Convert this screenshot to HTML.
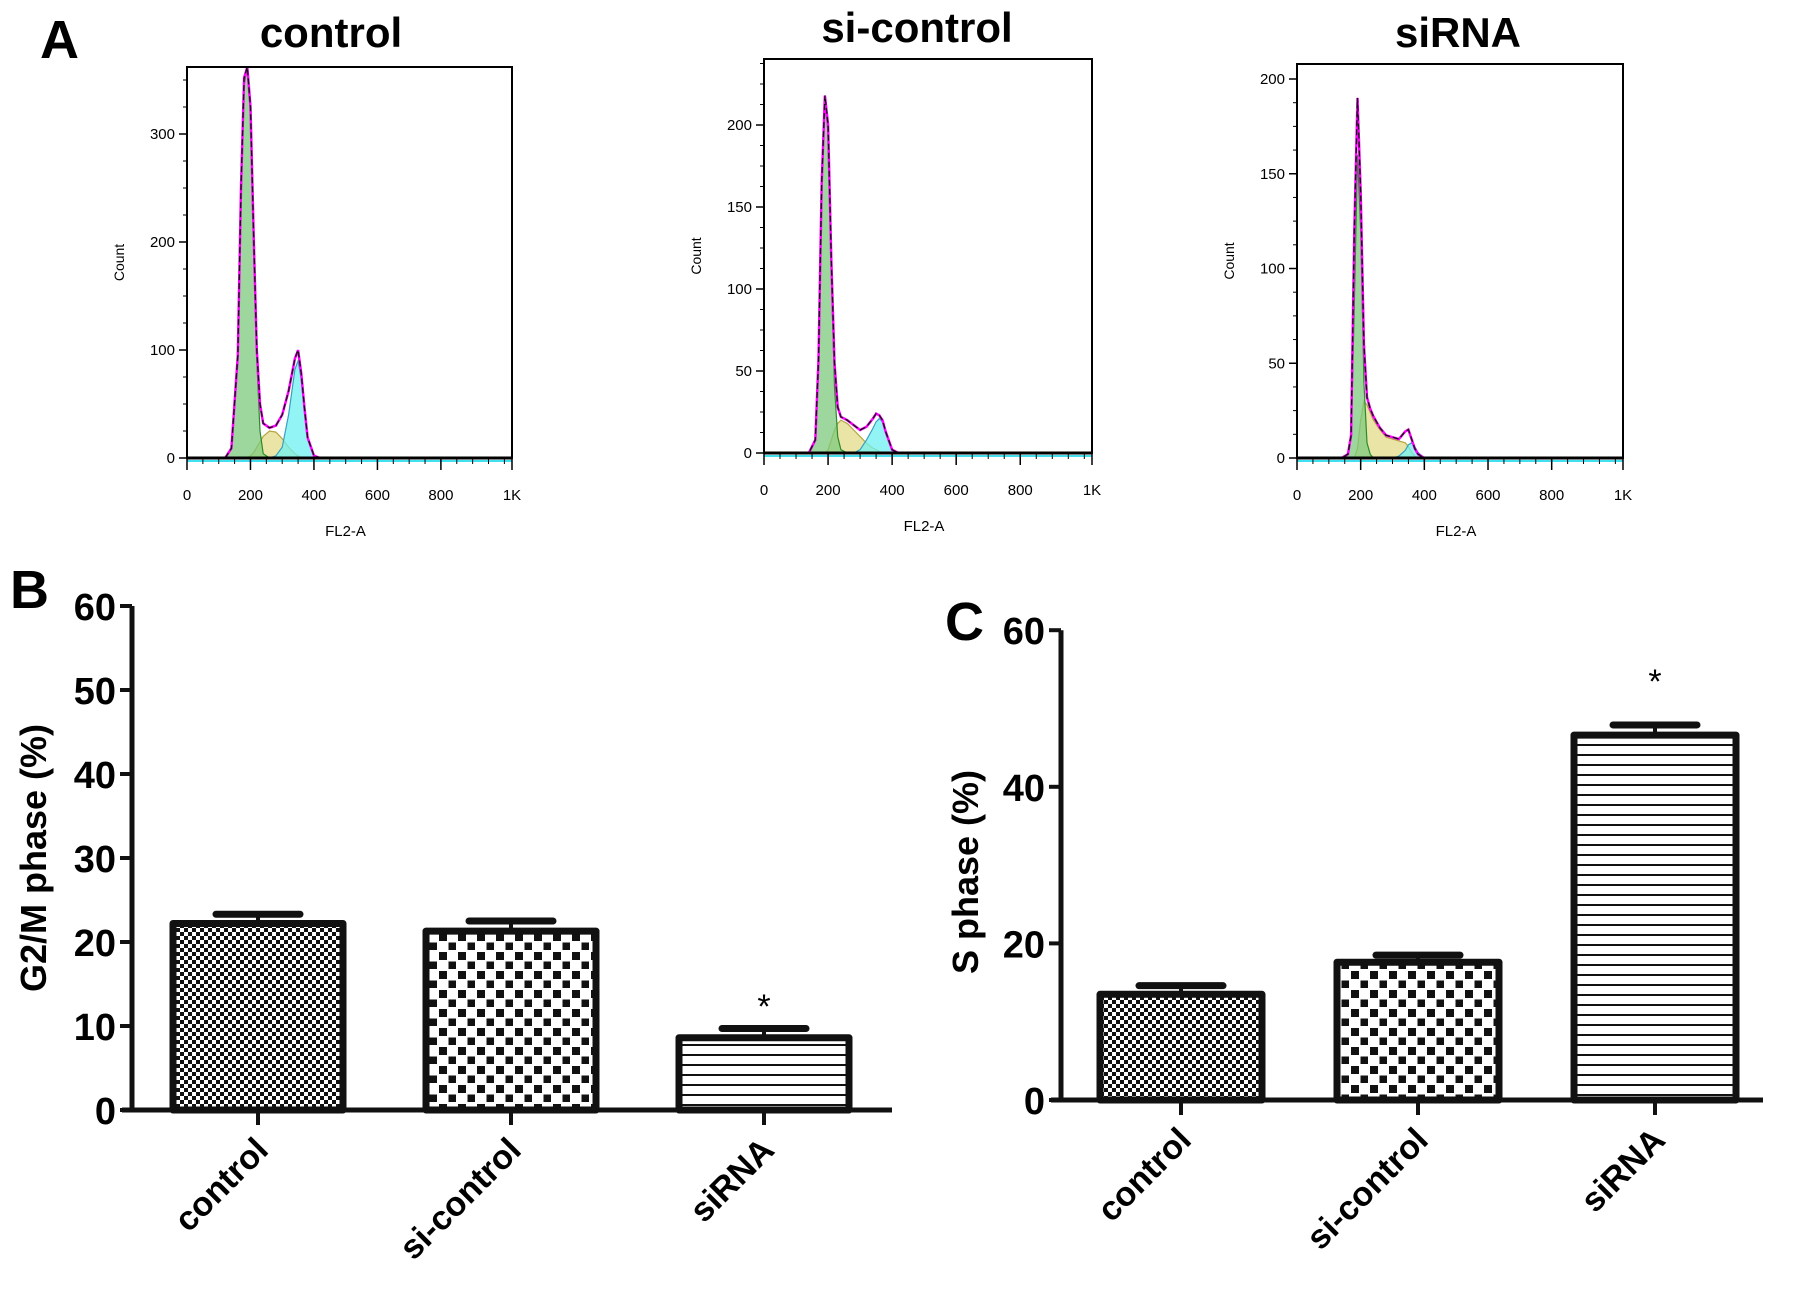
<!DOCTYPE html>
<html><head><meta charset="utf-8"><style>
body{margin:0;background:#fff;}
svg{display:block;font-family:"Liberation Sans",Arial,sans-serif;}
</style></head><body>
<svg id="fig" width="1795" height="1293" viewBox="0 0 1795 1293" xmlns="http://www.w3.org/2000/svg">
<defs>
<pattern id="pFine" width="8" height="8" patternUnits="userSpaceOnUse"><rect width="8" height="8" fill="#fff"/><rect x="0" y="0" width="4" height="4" fill="#111"/><rect x="4" y="4" width="4" height="4" fill="#111"/></pattern>
<pattern id="pCheck" width="19" height="19" patternUnits="userSpaceOnUse"><rect width="19" height="19" fill="#fff"/><rect x="2" y="2" width="8" height="8" fill="#111"/><rect x="11.5" y="11.5" width="8" height="8" fill="#111"/></pattern>
<pattern id="pLines" width="10" height="10" patternUnits="userSpaceOnUse"><rect width="10" height="10" fill="#fff"/><rect x="0" y="4" width="10" height="2" fill="#111"/></pattern>
</defs>
<g id="root"></g>
</svg>
<script>
// ---- Histogram data (channel, count) per phase component ----
const chanPts = [120,140,160,170,180,190,200,210,220,230,240,260,280,300,320,340,350,360,370,380,400,420];
const ctrlG1 = [0,8,90,240,345,370,320,200,90,25,4,0,0,0,0,0,0,0,0,0,0,0];
const ctrlS  = [0,0,0,0,0,0,2,5,10,15,20,25,24,18,10,4,2,0,0,0,0,0];
const ctrlG2 = [0,0,0,0,0,0,0,0,0,0,0,0,2,10,40,82,90,72,45,18,2,0];
const ctrlEnv= [0,9,95,250,352,372,325,205,100,50,32,28,30,40,62,92,100,78,47,19,2,0];
const sicG1  = [0,0,8,55,160,215,195,110,40,10,2,0,0,0,0,0,0,0,0,0,0,0];
const sicS   = [0,0,0,0,0,0,2,8,14,18,20,18,14,10,6,3,2,1,0,0,0,0];
const sicG2  = [0,0,0,0,0,0,0,0,0,0,0,0,0,2,8,15,19,21,19,12,2,0];
const sicEnv = [0,0,8,57,165,218,200,118,55,28,22,20,17,14,16,21,24,23,20,13,2,0];
const siG1   = [0,0,2,10,80,160,120,40,8,2,0,0,0,0,0,0,0,0,0,0,0,0];
const siS    = [0,0,0,0,0,5,20,30,28,24,20,15,11,10,9,8,6,3,1,0,0,0];
const siG2   = [0,0,0,0,0,0,0,0,0,0,0,0,0,0,1,4,7,8,6,3,0,0];
const siEnv  = [0,0,2,12,120,190,140,60,32,26,22,16,12,11,10,14,15,10,5,2,0,0];
const xTickLabels = ["0","200","400","600","800","1K"];
const xTickVals = [0,200,400,600,800,1024];

// ---- Bar chart data ----
const barCats = ["control","si-control","siRNA"];
const g2mVals = [22.2,21.3,8.6];
const g2mErr  = [1.1,1.2,1.1];
const sVals   = [13.5,17.6,46.6];
const sErr    = [1.1,0.9,1.3];
const g2mTicks = [0,10,20,30,40,50,60];
const sTicks = [0,20,40,60];

const NS="http://www.w3.org/2000/svg";
const root=document.getElementById('root');
function mk(tag,attrs,parent,text){const e=document.createElementNS(NS,tag);for(const k in attrs)e.setAttribute(k,attrs[k]);if(text!==undefined)e.textContent=text;(parent||root).appendChild(e);return e;}

function histogram(cfg){
  const g=mk('g',{});
  
  
  const X=c=>cfg.x0+c*(cfg.x1-cfg.x0)/1024;
  const Y=v=>cfg.yb-v*cfg.ppu;
  const area=(arr,fill,stroke)=>{let d=`M${X(chanPts[0])},${Y(0)}`;arr.forEach((v,i)=>d+=`L${X(chanPts[i]).toFixed(1)},${Y(Math.min(v,cfg.ymax)).toFixed(1)}`);d+=`L${X(chanPts[chanPts.length-1])},${Y(0)}Z`;return mk('path',{d,fill,'fill-opacity':0.75,stroke,'stroke-width':1.2},g);};
  const pc=area(cfg.s,'#e3dc8a','#b5a640');  
  const pg2=area(cfg.g2,'#6ff0f2','#3aa0c0');  
  const pg1=area(cfg.g1,'#7cc97c','#2c8a2c');  
  let d='';cfg.env.forEach((v,i)=>d+=(i?'L':'M')+X(chanPts[i]).toFixed(1)+','+Y(Math.min(v,cfg.ymax)).toFixed(1));
  const env=mk('path',{d,fill:'none',stroke:'#ff00ff','stroke-width':2.5},g);
   
  const dl=mk('path',{d,fill:'none',stroke:'#111','stroke-width':1.3,'stroke-dasharray':'6 3'},g);
   
  mk('line',{x1:cfg.x0,y1:cfg.yb+3,x2:cfg.x1,y2:cfg.yb+3,stroke:'#40e0f0','stroke-width':2},g);
  mk('line',{x1:cfg.x0,y1:cfg.yb,x2:cfg.x1,y2:cfg.yb,stroke:'#000','stroke-width':3},g);
  mk('rect',{x:cfg.x0,y:cfg.top,width:cfg.x1-cfg.x0,height:cfg.yb-cfg.top,fill:'none',stroke:'#000','stroke-width':2},g);
  cfg.yt.forEach(v=>{mk('line',{x1:cfg.x0-8,y1:Y(v),x2:cfg.x0,y2:Y(v),stroke:'#000','stroke-width':1.5},g);
    const t=mk('text',{x:cfg.x0-12,y:Y(v)+5,'text-anchor':'end','font-size':15},g,String(v));
     });
  for(let v=cfg.minor;v<cfg.ymax;v+=cfg.minor) mk('line',{x1:cfg.x0-4,y1:Y(v),x2:cfg.x0,y2:Y(v),stroke:'#000','stroke-width':1},g);
  for(let c=0;c<=1024;c+=50) mk('line',{x1:X(c),y1:cfg.yb,x2:X(c),y2:cfg.yb+6,stroke:'#000','stroke-width':1},g);
  xTickVals.forEach((c,i)=>{mk('line',{x1:X(c),y1:cfg.yb,x2:X(c),y2:cfg.yb+12,stroke:'#000','stroke-width':1.5},g);
    const t=mk('text',{x:X(c),y:cfg.yb+42,'text-anchor':'middle','font-size':15},g,xTickLabels[i]);
     });
  const xl=mk('text',{x:(cfg.x0+cfg.x1)/2-4,y:cfg.yb+78,'text-anchor':'middle','font-size':15},g,'FL2-A');
   
  const yl=mk('text',{x:0,y:0,'text-anchor':'middle','font-size':14,transform:`translate(${cfg.x0-63},${(cfg.top+cfg.yb)/2}) rotate(-90)`},g,'Count');
   
  const ti=mk('text',{x:cfg.tx,y:cfg.ty,'text-anchor':'middle','font-size':42,'font-weight':'bold'},g,cfg.title);
   
}
histogram({name:'control-histogram',x0:187,x1:512,top:67,yb:458,ppu:1.08,ymax:362,yt:[0,100,200,300],minor:25,g1:ctrlG1,s:ctrlS,g2:ctrlG2,env:ctrlEnv,title:'control',tx:331,ty:47});
histogram({name:'si-control-histogram',x0:764,x1:1092,top:59,yb:453,ppu:1.64,ymax:240,yt:[0,50,100,150,200],minor:12.5,g1:sicG1,s:sicS,g2:sicG2,env:sicEnv,title:'si-control',tx:917,ty:42});
histogram({name:'sirna-histogram',x0:1297,x1:1623,top:64,yb:458,ppu:1.895,ymax:207,yt:[0,50,100,150,200],minor:12.5,g1:siG1,s:siS,g2:siG2,env:siEnv,title:'siRNA',tx:1458,ty:47});

function barChart(cfg){
  const g=mk('g',{});
  
  
  const Y=v=>cfg.y0-v*cfg.ppu;
  const ymax=cfg.ticks[cfg.ticks.length-1];
  const pats=['url(#pFine)','url(#pCheck)','url(#pLines)'];
  barCats.forEach((c,i)=>{
    const x=cfg.bx0+i*cfg.step, cx=x+cfg.bw/2;
    const b=mk('rect',{x:x,y:Y(cfg.vals[i]),width:cfg.bw,height:cfg.vals[i]*cfg.ppu,fill:pats[i],stroke:'#111','stroke-width':7,'stroke-linejoin':'round'},g);
     
    mk('line',{x1:cx,y1:Y(cfg.vals[i])-3,x2:cx,y2:Y(cfg.vals[i]+cfg.err[i]),stroke:'#111','stroke-width':4},g);
    const cap=mk('line',{x1:cx-42,y1:Y(cfg.vals[i]+cfg.err[i]),x2:cx+42,y2:Y(cfg.vals[i]+cfg.err[i]),stroke:'#111','stroke-width':7,'stroke-linecap':'round'},g);
     
    mk('line',{x1:cx,y1:cfg.y0,x2:cx,y2:cfg.y0+15,stroke:'#111','stroke-width':4},g);
    const t=mk('text',{x:0,y:0,'text-anchor':'end','font-size':34,'font-weight':'bold',transform:`translate(${cx+12},${cfg.y0+42}) rotate(-45)`},g,c);
     
    if(i===2){const s=mk('text',{x:cx,y:cfg.starY,'text-anchor':'middle','font-size':34},g,'*');
       }
  });
  const ax=mk('line',{x1:cfg.ax,y1:Y(ymax),x2:cfg.ax,y2:cfg.y0+2,stroke:'#111','stroke-width':5},g);
   
  const xa=mk('line',{x1:cfg.ax-10,y1:cfg.y0,x2:cfg.xend,y2:cfg.y0,stroke:'#111','stroke-width':5},g);
   
  cfg.ticks.forEach(v=>{mk('line',{x1:cfg.ax-12,y1:Y(v),x2:cfg.ax,y2:Y(v),stroke:'#111','stroke-width':4},g);
    const t=mk('text',{x:cfg.ax-16,y:Y(v)+14,'text-anchor':'end','font-size':38,'font-weight':'bold'},g,String(v));
     });
  const yl=mk('text',{x:0,y:0,'text-anchor':'middle','font-size':36,'font-weight':'bold',transform:`translate(${cfg.ylx},${cfg.yly}) rotate(-90)`},g,cfg.ytitle);
   
}
barChart({name:'g2m-bar-chart',vals:g2mVals,err:g2mErr,ticks:g2mTicks,y0:1110,ppu:8.4,ax:132,xend:892,bx0:173,bw:170,step:253,starY:1018,ytitle:'G2/M phase (%)',ylx:46,yly:858});
barChart({name:'s-phase-bar-chart',vals:sVals,err:sErr,ticks:sTicks,y0:1100,ppu:7.83,ax:1061,xend:1763,bx0:1100,bw:162,step:237,starY:693,ytitle:'S phase (%)',ylx:978,yly:872});

[['A',40,58],['B',10,608],['C',945,640]].forEach(p=>{const t=mk('text',{x:p[1],y:p[2],'font-size':54,'font-weight':'bold'},root,p[0]);
   });
</script>
</body></html>
